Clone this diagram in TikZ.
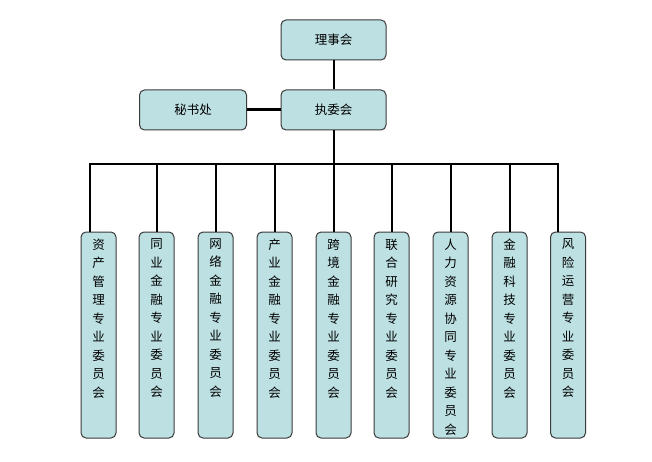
\documentclass[tikz,border=0pt]{standalone}
\usepackage{fontspec}
\newfontfamily\cjk{Noto Sans CJK SC}
\definecolor{boxfill}{HTML}{BDE0E3}
\definecolor{boxline}{HTML}{3A3A3A}
\begin{document}
\begin{tikzpicture}[x=1pt,y=-1pt,
  box/.style={draw=boxline,line width=1pt,fill=boxfill,rounded corners=5pt,inner sep=0pt},
  topbox/.style={box,minimum width=105pt,minimum height=40pt,font=\cjk\fontsize{12.5}{14}\selectfont},
  colbox/.style={box,minimum width=35pt,minimum height=206pt},
  coltext/.style={inner sep=0pt,anchor=north,align=center,font=\cjk\fontsize{12.5}{18.5}\selectfont},
  conn/.style={line width=2pt,black},
  thickconn/.style={line width=3pt,black}]
\useasboundingbox (0,0) rectangle (652,462);
\node[topbox] (lsh) at (333.5,40) {理事会};
\node[topbox] (zwh) at (333.5,110) {执委会};
\node[topbox,minimum width=107pt] (msc) at (193,110) {秘书处};
\draw[conn] (lsh.south) -- (zwh.north);
\draw[thickconn] (msc.east) -- (zwh.west);
% columns
\foreach \i/\cx/\lx/\t in {
  1/98.5/90/{资\\产\\管\\理\\专\\业\\委\\员\\会},
  2/156.5/157/{同\\业\\金\\融\\专\\业\\委\\员\\会},
  3/215.5/216/{网\\络\\金\\融\\专\\业\\委\\员\\会},
  4/274.5/275/{产\\业\\金\\融\\专\\业\\委\\员\\会},
  5/333.5/333.5/{跨\\境\\金\\融\\专\\业\\委\\员\\会},
  6/391.5/392/{联\\合\\研\\究\\专\\业\\委\\员\\会},
  7/450.5/451/{人\\力\\资\\源\\协\\同\\专\\业\\委\\员\\会},
  8/509.5/510/{金\\融\\科\\技\\专\\业\\委\\员\\会},
  9/568/558/{风\\险\\运\\营\\专\\业\\委\\员\\会}}{
  \node[colbox] (b\i) at (\cx,335) {};
  \node[coltext] (t\i) at ([yshift=-7pt]b\i.north) {\t};
  \coordinate (k\i) at (\lx,164);
  \draw[conn] (k\i) -- (k\i |- b\i.north);
}
\coordinate (busmid) at (333.5,164);
\draw[conn] (zwh.south) -- (busmid);
\draw[conn] ([xshift=-1pt]k1) -- ([xshift=1pt]k9);
\end{tikzpicture}
\end{document}
